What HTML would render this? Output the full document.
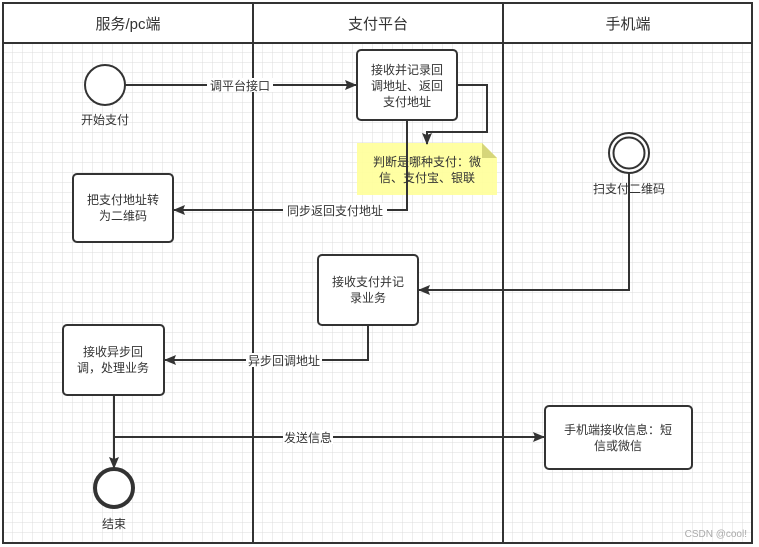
<!DOCTYPE html>
<html><head><meta charset="utf-8"><style>
html,body{margin:0;padding:0;background:#fff;}
svg{display:block;font-family:"Liberation Sans","Noto Sans CJK SC",sans-serif;}
</style></head><body>
<svg width="759" height="547" viewBox="0 0 759 547" xmlns="http://www.w3.org/2000/svg">
<defs>
<pattern id="g" width="10" height="10" patternUnits="userSpaceOnUse" x="3" y="3">
<path d="M10 0V10H0" fill="none" stroke="#dcdcdc" stroke-width="1"/>
</pattern>
<marker id="a" markerWidth="12" markerHeight="12" refX="11" refY="6" orient="auto" markerUnits="userSpaceOnUse">
<path d="M0 1L12 6L0 11L2 6Z" fill="#333"/>
</marker>
</defs>
<rect width="759" height="547" fill="#fff"/>
<rect x="3" y="3" width="749" height="540" fill="url(#g)"/>
<rect x="3" y="3" width="749" height="40" fill="#fff"/>
<g stroke="#333" stroke-width="2" fill="none">
<rect x="3" y="3" width="749" height="540"/>
<line x1="3" y1="43" x2="752" y2="43"/>
<line x1="253" y1="3" x2="253" y2="543"/>
<line x1="503" y1="3" x2="503" y2="543"/>
</g>
<g font-size="15" fill="#333" text-anchor="middle">
<text x="128" y="29">服务/pc端</text>
<text x="378" y="29">支付平台</text>
<text x="628" y="29">手机端</text>
</g>
<!-- note -->
<path d="M357 143H482L497 158V195H357Z" fill="#ffff99" opacity="0.9"/>
<path d="M482 143V158H497Z" fill="#d6d67a"/>
<g font-size="12" fill="#333" text-anchor="middle">
<text x="427" y="166">判断是哪种支付：微</text>
<text x="427" y="182">信、支付宝、银联</text>
</g>
<!-- connectors -->
<g stroke="#333" stroke-width="2" fill="none">
<line x1="125" y1="85" x2="356" y2="85" marker-end="url(#a)"/>
<polyline points="457,85 487,85 487,132 427,132 427,144" marker-end="url(#a)"/>
<polyline points="407,120 407,210 174,210" marker-end="url(#a)"/>
<polyline points="629,173 629,290 419,290" marker-end="url(#a)"/>
<polyline points="368,325 368,360 165,360" marker-end="url(#a)"/>
<line x1="114" y1="395" x2="114" y2="468" marker-end="url(#a)"/>
<line x1="114" y1="437" x2="544" y2="437" marker-end="url(#a)"/>
</g>
<!-- nodes -->
<g stroke="#333" stroke-width="2" fill="#fff">
<circle cx="105" cy="85" r="20"/>
<rect x="357" y="50" width="100" height="70" rx="4"/>
<rect x="73" y="174" width="100" height="68" rx="4"/>
<rect x="318" y="255" width="100" height="70" rx="4"/>
<rect x="63" y="325" width="101" height="70" rx="4"/>
<rect x="545" y="406" width="147" height="63" rx="4"/>
<circle cx="629" cy="153" r="20"/>
<circle cx="629" cy="153" r="15.5"/>
<circle cx="114" cy="488" r="19" stroke-width="4"/>
</g>
<!-- label backgrounds -->
<g fill="#fff">
<rect x="207" y="78" width="66" height="14"/>
<rect x="283" y="203" width="104" height="14"/>
<rect x="246" y="353" width="76" height="14"/>
<rect x="283" y="430" width="50" height="14"/>
</g>
<g font-size="12" fill="#333" text-anchor="middle">
<text x="240" y="90">调平台接口</text>
<text x="335" y="215">同步返回支付地址</text>
<text x="284" y="365">异步回调地址</text>
<text x="308" y="442">发送信息</text>
<text x="105" y="124">开始支付</text>
<text x="629" y="193">扫支付二维码</text>
<text x="114" y="528">结束</text>
<text x="407" y="74">接收并记录回</text>
<text x="407" y="90">调地址、返回</text>
<text x="407" y="106">支付地址</text>
<text x="123" y="204">把支付地址转</text>
<text x="123" y="220">为二维码</text>
<text x="368" y="286">接收支付并记</text>
<text x="368" y="302">录业务</text>
<text x="113" y="356">接收异步回</text>
<text x="113" y="372">调，处理业务</text>
<text x="618" y="434">手机端接收信息：短</text>
<text x="618" y="450">信或微信</text>
</g>
<text x="747" y="537" font-size="10" fill="#aaa" text-anchor="end">CSDN @cool!</text>
</svg>
</body></html>
